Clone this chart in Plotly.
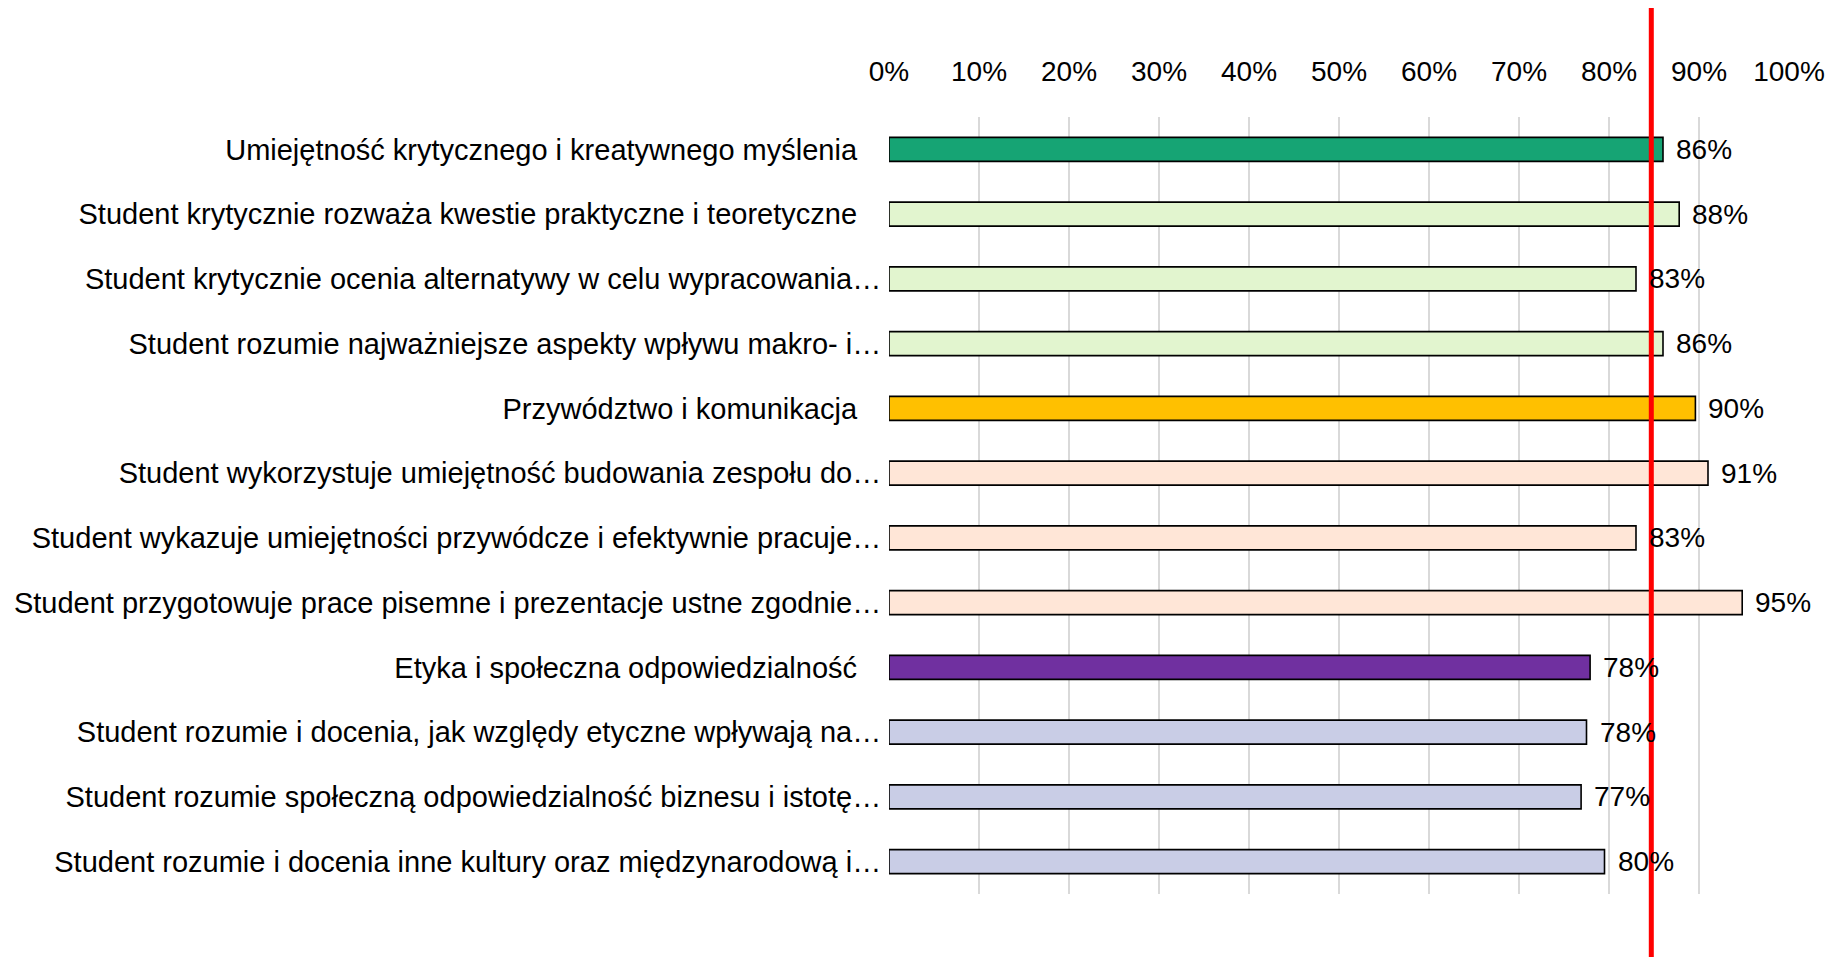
import plotly.graph_objects as go

categories = [
    "Umiejętność krytycznego i kreatywnego myślenia",
    "Student krytycznie rozważa kwestie praktyczne i teoretyczne",
    "Student krytycznie ocenia alternatywy w celu wypracowania…",
    "Student rozumie najważniejsze aspekty wpływu makro- i…",
    "Przywództwo i komunikacja",
    "Student wykorzystuje umiejętność budowania zespołu do…",
    "Student wykazuje umiejętności przywódcze i efektywnie pracuje…",
    "Student przygotowuje prace pisemne i prezentacje ustne zgodnie…",
    "Etyka i społeczna odpowiedzialność",
    "Student rozumie i docenia, jak względy etyczne wpływają na…",
    "Student rozumie społeczną odpowiedzialność biznesu i istotę…",
    "Student rozumie i docenia inne kultury oraz międzynarodową i…",
]
truncated = [False, False, True, True, False, True, True, True, False, True, True, True]
values = [0.86, 0.878, 0.83, 0.86, 0.896, 0.91, 0.83, 0.948, 0.779, 0.775, 0.769, 0.795]
labels = ["86%", "88%", "83%", "86%", "90%", "91%", "83%", "95%", "78%", "78%", "77%", "80%"]
colors = ["#16A474", "#E2F5CF", "#E2F5CF", "#E2F5CF",
          "#FFC000", "#FFE6D7", "#FFE6D7", "#FFE6D7",
          "#7030A0", "#C9CDE6", "#C9CDE6", "#C9CDE6"]
target = 0.847
tick_vals = [i / 10 for i in range(11)]
tick_text = [f"{i*10}%" for i in range(11)]

FONT = "Liberation Sans, Arial, sans-serif"
FS_CAT = 29
FS = 28

tick_labels = [c if t else c + "\u00a0\u00a0\u00a0" for c, t in zip(categories, truncated)]

fig = go.Figure()
fig.add_trace(go.Bar(
    x=values, y=categories, orientation="h",
    marker=dict(color=colors, line=dict(color="#000000", width=1.6)),
    width=0.37, hoverinfo="skip",
))

for v, c, lab in zip(values, categories, labels):
    fig.add_annotation(x=v, y=c, text=lab, showarrow=False, xanchor="left",
                       xshift=11, font=dict(family=FONT, size=FS, color="#000000"))

fig.add_shape(type="line", xref="x", yref="paper", x0=target, x1=target,
              y0=-0.15, y1=1.2, line=dict(color="#FF0000", width=5), layer="above")

# page body has an 8px default margin, so margins are offset by -8px
fig.update_layout(
    width=1839, height=957,
    margin=dict(l=881, r=58, t=109, b=71),
    paper_bgcolor="white", plot_bgcolor="white",
    showlegend=False,
    font=dict(family=FONT, size=FS, color="#000000"),
)
fig.update_xaxes(range=[0, 1], side="top", tickvals=tick_vals, ticktext=tick_text,
                 showgrid=True, gridcolor="#D9D9D9", gridwidth=1.5, zeroline=False,
                 showline=False, ticks="outside", ticklen=24, tickcolor="rgba(0,0,0,0)",
                 tickfont=dict(family=FONT, size=FS, color="#000000"), fixedrange=True,
                 automargin=False)
fig.update_yaxes(autorange="reversed", tickvals=categories, ticktext=tick_labels,
                 showgrid=False, zeroline=False, showline=False,
                 ticks="outside", ticklen=1, tickcolor="rgba(0,0,0,0)",
                 tickfont=dict(family=FONT, size=FS_CAT, color="#000000"), fixedrange=True,
                 automargin=False)

fig.write_html("out.html")
